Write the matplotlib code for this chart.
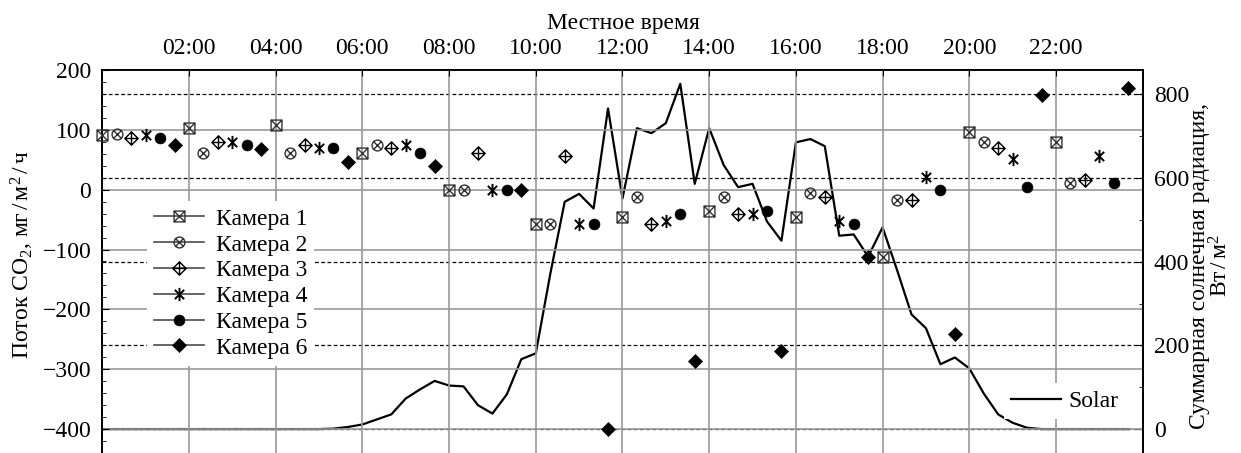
import numpy as np
import matplotlib
matplotlib.use("Agg")
import matplotlib.pyplot as plt
from matplotlib.path import Path
from matplotlib.ticker import MultipleLocator, FixedLocator, FuncFormatter
from matplotlib.lines import Line2D

plt.rcParams['font.family'] = ['Liberation Serif', 'DejaVu Serif']
plt.rcParams['mathtext.fontset'] = 'custom'
plt.rcParams['mathtext.rm'] = 'Liberation Serif'
plt.rcParams['mathtext.it'] = 'Liberation Serif:italic'
plt.rcParams['font.size'] = 17

# start of each 2-hour measuring cycle (hours); chamber k is sampled 20*(k-1) min later
cycle_start = np.arange(0, 24, 2)

cam1 = [91, 103, 108, 62, 0, -57.5, -46, -35, -46, -113, 97, 80]
cam2 = [93, 62, 62, 75, 0, -57.5, -12, -12, -6, -17, 80, 11]
cam3 = [86, 80, 75, 69, 62, 56, -57.5, -41, -12, -17, 69, 17]
cam4 = [91, 80, 69, 75, 0, -57.5, -52, -41, -52, 22, 51, 57]
cam5 = [86, 75, 69, 62, 0, -57.5, -41, -35, -57.5, 0, 5, 11]
cam6 = [74, 68, 46, 40, 0, -400, -286, -270, -113, -241, 159, 170]
cameras = [cam1, cam2, cam3, cam4, cam5, cam6]
cam_labels = ['Камера 1', 'Камера 2', 'Камера 3', 'Камера 4', 'Камера 5', 'Камера 6']

# total solar radiation, W/m2, every 20 min from 00:00 to 23:40
solar = [0, 0, 0, 0, 0, 0, 0, 0, 0, 0, 0, 0, 0, 0, 0, 0,
         1, 5, 11, 23, 35, 73, 95, 115, 104, 102, 57, 37, 83, 167, 181, 370,
         543, 562, 527, 766, 551, 719, 707, 731, 825, 586, 719, 631, 578, 586, 496, 450,
         685, 693, 676, 462, 465, 412, 482, 380, 274, 241, 155, 171, 145, 85, 35, 15,
         3, 0, 0, 0, 0, 0, 0, 0]
solar_t = np.arange(len(solar)) / 3.0

hour_ticks = list(range(2, 24, 2))


def seg(a, b):
    return Path([a, b], [Path.MOVETO, Path.LINETO])


square = Path([(-1, -1), (1, -1), (1, 1), (-1, 1), (-1, -1)],
              [Path.MOVETO, Path.LINETO, Path.LINETO, Path.LINETO, Path.CLOSEPOLY])
diamond = Path([(0, -1), (1, 0), (0, 1), (-1, 0), (0, -1)],
               [Path.MOVETO, Path.LINETO, Path.LINETO, Path.LINETO, Path.CLOSEPOLY])
d = 0.707
box_x = Path.make_compound_path(square, seg((-1, -1), (1, 1)), seg((-1, 1), (1, -1)))
circ_x = Path.make_compound_path(Path.unit_circle(), seg((-d, -d), (d, d)), seg((-d, d), (d, -d)))
diam_plus = Path.make_compound_path(diamond, seg((0, -1), (0, 1)), seg((-1, 0), (1, 0)))
aster = Path.make_compound_path(seg((-d, -d), (d, d)), seg((-d, d), (d, -d)), seg((0, -1), (0, 1)))

styles = [
    dict(marker=box_x, ms=7.8, mfc='none', mec='0.2', mew=1.0),
    dict(marker=circ_x, ms=7.8, mfc='none', mec='0.2', mew=1.0),
    dict(marker=diam_plus, ms=9.5, mfc='none', mec='k', mew=1.0),
    dict(marker=aster, ms=9.5, mfc='none', mec='k', mew=1.4),
    dict(marker='o', ms=7.8, mfc='k', mec='k', mew=0.5),
    dict(marker='D', ms=6.8, mfc='k', mec='k', mew=0.5),
]

fig = plt.figure(figsize=(12.41, 4.53), dpi=100)
ax = fig.add_axes([0.0824, 0.0, 0.8384, 0.8455])
ax2 = ax.twinx()
ax.set_zorder(ax2.get_zorder() + 1)
ax.patch.set_visible(False)

# solar radiation on the right axis
solar_line, = ax2.plot(solar_t, solar, color='k', lw=1.6, label='Solar')
ax2.set_ylim(-57.2, 858)
ax2.set_yticks([0, 200, 400, 600, 800])
ax2.yaxis.set_minor_locator(MultipleLocator(100))
ax2.yaxis.grid(True, color='k', ls=(0, (3, 2)), lw=0.9)
ax2.tick_params(axis='y', which='both', direction='in', pad=8)
ax2.tick_params(axis='y', which='major', length=5)
ax2.tick_params(axis='y', which='minor', length=3)

# CO2 fluxes on the left axis
handles = []
for k, (vals, st) in enumerate(zip(cameras, styles)):
    t = cycle_start + k / 3.0
    ax.plot(t, vals, ls='none', zorder=3, clip_on=False, **st)
    handles.append(Line2D([], [], color='0.3', lw=1.2, **st))

ax.set_xlim(0, 24)
ax.set_ylim(-440, 200)
ax.yaxis.set_major_locator(MultipleLocator(100))
ax.yaxis.set_minor_locator(MultipleLocator(20))
ax.xaxis.set_major_locator(FixedLocator(hour_ticks))
ax.xaxis.set_major_formatter(FuncFormatter(lambda v, p: '%02d:00' % int(v)))
ax.xaxis.tick_top()
ax.tick_params(axis='x', which='both', direction='in', top=True, bottom=False,
               labeltop=True, labelbottom=False, length=4, pad=8)
ax.tick_params(axis='y', which='both', direction='in', pad=8)
ax.tick_params(axis='y', which='major', length=5)
ax.tick_params(axis='y', which='minor', length=3)
ax.grid(True, color='0.6', lw=1.2)

for a in (ax, ax2):
    a.spines['bottom'].set_visible(False)
    for s in ('top', 'left', 'right'):
        a.spines[s].set_linewidth(1.3)

leg = ax.legend(handles, cam_labels, loc='upper left', bbox_to_anchor=(0.1185, 0.556),
                bbox_transform=fig.transFigure, borderaxespad=0, borderpad=0.3,
                handlelength=2.1, handletextpad=0.5, labelspacing=0.18,
                frameon=True, fancybox=False, edgecolor='none', facecolor='white',
                framealpha=1)
ax.add_artist(leg)
ax.legend([solar_line], ['Solar'], loc='lower right', bbox_to_anchor=(0.9065, 0.075),
          bbox_transform=fig.transFigure, borderaxespad=0, borderpad=0.3,
          handlelength=2.1, handletextpad=0.3, frameon=True, fancybox=False,
          edgecolor='none', facecolor='white', framealpha=1)

fig.text(623 / 1241, 1 - 23 / 453, 'Местное время', ha='center', va='center')
fig.text(22 / 1241, 1 - 255 / 453, 'Поток CO$_2$, мг$\\,/\\,$м$^2\\,/\\,$ч',
         rotation=90, ha='center', va='center')
fig.text(1211 / 1241, 1 - 266 / 453, 'Суммарная солнечная радиация,\nВт$\\,/\\,$м$^2$',
         rotation=90, ha='center', va='center', multialignment='center', linespacing=0.95)

fig.savefig('out.png', dpi=100)
